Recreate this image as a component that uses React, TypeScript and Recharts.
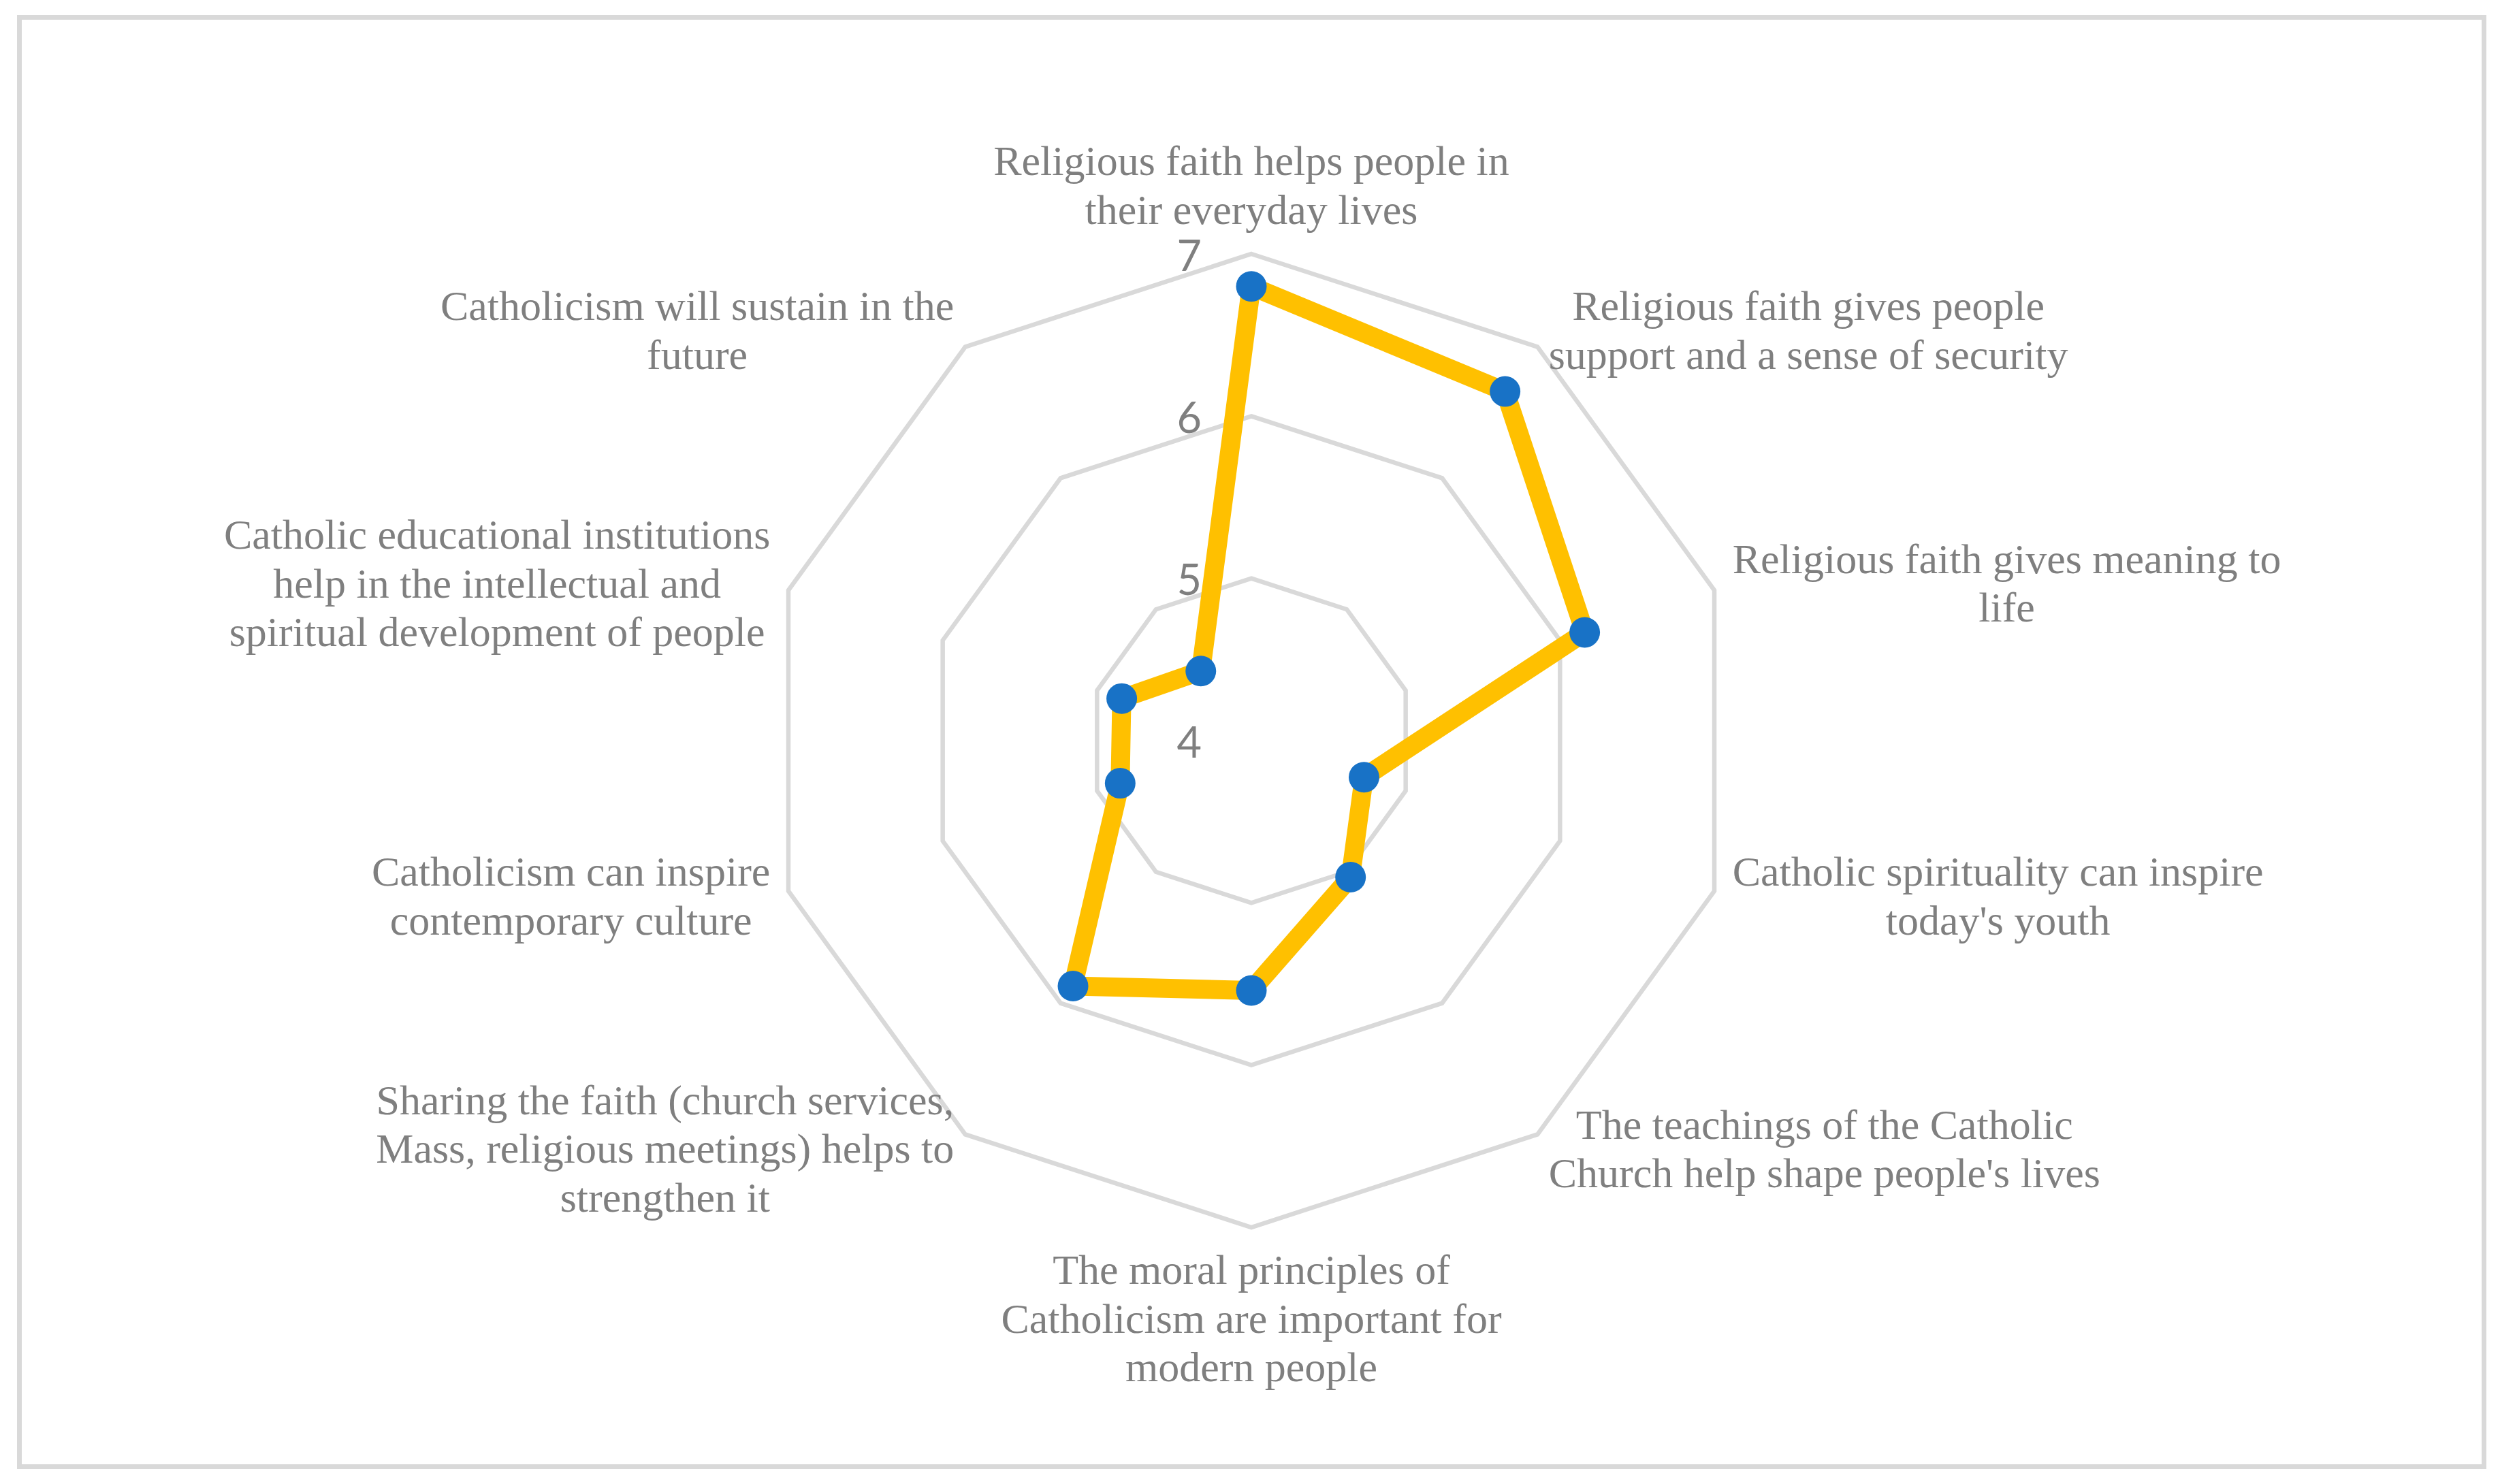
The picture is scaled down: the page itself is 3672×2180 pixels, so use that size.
import React from 'react';
import { RadarChart, Radar, PolarGrid, PolarAngleAxis, PolarRadiusAxis } from 'recharts';

const categories: string[] = [
  'Religious faith helps people in\ntheir everyday lives',
  'Religious faith gives people\nsupport and a sense of security',
  'Religious faith gives meaning to\nlife',
  "Catholic spirituality can inspire\ntoday's youth",
  "The teachings of the Catholic\nChurch help shape people's lives",
  'The moral principles of\nCatholicism are important for\nmodern people',
  'Sharing the faith (church services,\nMass, religious meetings) helps to\nstrengthen it',
  'Catholicism can inspire\ncontemporary culture',
  'Catholic educational institutions\nhelp in the intellectual and\nspiritual development of people',
  'Catholicism will sustain in the\nfuture',
];

const values: number[] = [6.8, 6.66, 6.16, 4.73, 5.04, 5.54, 5.87, 4.85, 4.84, 4.53];

const radiusDomain: [number, number] = [4, 7];
const radiusTickCount = 4;

const data = categories.map((c, i) => ({ category: c, value: values[i] }));

const W = 3672;
const H = 2180;
const LABEL_SIZE = 62;
const LABEL_FONT_FAMILY = '"Liberation Serif", "Times New Roman", serif';
const LH = 71.5;
const BASE = 55;
const GRAY = '#7f7f7f';

let ctx: CanvasRenderingContext2D | null = null;
function measure(text: string): number {
  if (!ctx) {
    const c = document.createElement('canvas');
    ctx = c.getContext('2d');
  }
  if (!ctx) return text.length * LABEL_SIZE * 0.42;
  ctx.font = `${LABEL_SIZE}px "Liberation Serif"`;
  return ctx.measureText(text).width;
}

function AngleTick(props: any) {
  const { x, y, payload, index } = props;
  const lines = String(payload.value).split('\n');
  const coord = typeof payload.coordinate === 'number' ? payload.coordinate : 90 - 36 * (index ?? 0);
  const th = (coord * Math.PI) / 180;
  const dx = Math.cos(th);
  const dy = -Math.sin(th);
  const w = Math.max(...lines.map(measure));
  const h = lines.length * LH;
  let centerX = x;
  if (dx > 0.1) centerX = x + w / 2;
  else if (dx < -0.1) centerX = x - w / 2;
  let top: number;
  if (dy < -0.9) top = y - h;
  else if (dy > 0.9) top = y;
  else top = y - h / 2;
  return (
    <g>
      {lines.map((l, i) => (
        <text
          key={i}
          x={centerX}
          y={top + i * LH + BASE}
          textAnchor="middle"
          fill={GRAY}
          fontSize={LABEL_SIZE}
          fontFamily={LABEL_FONT_FAMILY}
        >
          {l}
        </text>
      ))}
    </g>
  );
}

function RadiusTick(props: any) {
  const { x, y, payload } = props;
  return (
    <text
      x={x - 73}
      y={y}
      textAnchor="end"
      dominantBaseline="central"
      fill={GRAY}
      fontSize={63}
      fontFamily="Lato, Carlito, Calibri, sans-serif"
    >
      {payload.value}
    </text>
  );
}

function renderDot(p: any) {
  return <circle key={`dot-${p.index}`} cx={p.cx} cy={p.cy} r={22.5} fill="#1872C6" stroke="none" />;
}

export default function App() {
  return (
    <div style={{ position: 'absolute', left: 0, top: 0, width: W, height: H, background: '#ffffff' }}>
      <div
        style={{
          position: 'absolute',
          left: 25,
          top: 22,
          width: 3627,
          height: 2136,
          border: '7px solid #d9d9d9',
          boxSizing: 'border-box',
        }}
      />
      <div style={{ position: 'absolute', left: 0, top: 0 }}>
        <RadarChart
          width={W}
          height={H}
          data={data}
          cx={1838}
          cy={1088}
          innerRadius={0}
          outerRadius={715}
          margin={{ top: 0, right: 0, bottom: 0, left: 0 }}
        >
          <PolarGrid gridType="polygon" radialLines={false} stroke="#d9d9d9" strokeWidth={6.5} />
          <PolarAngleAxis
            dataKey="category"
            axisLine={false}
            tickLine={false}
            tickSize={28}
            tick={AngleTick}
          />
          <PolarRadiusAxis
            angle={90}
            domain={radiusDomain}
            tickCount={radiusTickCount}
            axisLine={false}
            tickLine={false}
            tick={RadiusTick}
          />
          <Radar
            dataKey="value"
            stroke="#FFC000"
            strokeWidth={28}
            strokeLinejoin="round"
            fill="none"
            fillOpacity={0}
            dot={renderDot}
            isAnimationActive={false}
          />
        </RadarChart>
      </div>
    </div>
  );
}
